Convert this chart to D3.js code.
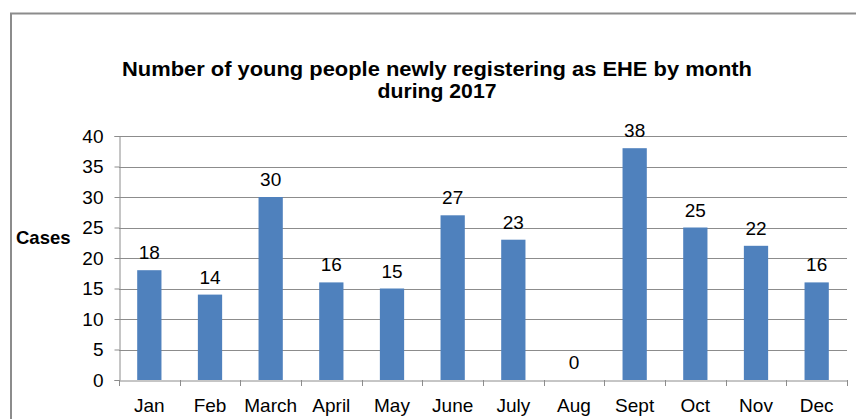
<!DOCTYPE html>
<html>
<head>
<meta charset="utf-8">
<script src="https://cdn.jsdelivr.net/npm/d3@7"></script>
<style>
html,body{margin:0;padding:0;background:#fff;}
svg{display:block;font-family:"Liberation Sans",Arial,sans-serif;}
</style>
</head>
<body>
<svg id="chart" width="856" height="419"></svg>
<script>
const months = ["Jan","Feb","March","April","May","June","July","Aug","Sept","Oct","Nov","Dec"];
const cases = [18,14,30,16,15,27,23,0,38,25,22,16];
const yTicks = [0,5,10,15,20,25,30,35,40];
const titleLines = ["Number of young people newly registering as EHE by month","during 2017"];
const yAxisTitle = "Cases";

(function(){
const svg = d3.select("#chart");
const FONT = "Liberation Sans, Arial, sans-serif";
// outer frame
svg.append("path").attr("d","M11,419 V13.5 H856").attr("fill","none").attr("stroke","#8c8c8c").attr("stroke-width",2);

const pL = 119, pR = 847, pT = 136, pB = 380;
const x = d3.scaleBand().domain(months).range([pL,pR]).paddingInner(0.6).paddingOuter(0.3);
const xOuter = d3.scaleBand().domain(months).range([pL,pR]);
const y = d3.scaleLinear().domain([0,40]).range([pB,pT]);

// gridlines
svg.append("g").selectAll("line").data(yTicks.filter(d=>d>0)).join("line")
  .attr("x1",pL).attr("x2",pR)
  .attr("y1",d=>Math.round(y(d))+0.5).attr("y2",d=>Math.round(y(d))+0.5)
  .attr("stroke","#8c8c8c").attr("stroke-width",1);

// bars
svg.append("g").selectAll("rect").data(cases).join("rect")
  .attr("x",(d,i)=>x(months[i]))
  .attr("width",x.bandwidth())
  .attr("y",d=>y(d))
  .attr("height",d=>pB-y(d))
  .attr("fill","#4F81BD");

// y axis
const yAxis = svg.append("g").attr("transform",`translate(${pL+0.5},0)`)
  .call(d3.axisLeft(y).tickValues(yTicks).tickSize(5).tickPadding(11));
yAxis.select(".domain").attr("stroke","#8c8c8c");
yAxis.selectAll(".tick line").attr("stroke","#8c8c8c");
yAxis.selectAll(".tick text").attr("font-size","19px").attr("fill","#000").attr("font-family",FONT);

// x axis
const xAxis = svg.append("g").attr("transform",`translate(0,${pB+0.5})`)
  .call(d3.axisBottom(xOuter).tickSize(0).tickPadding(0));
xAxis.select(".domain").attr("stroke","#8c8c8c");
xAxis.selectAll(".tick text").attr("font-size","19px").attr("fill","#000").attr("font-family",FONT)
  .attr("dy",null).attr("y",31.5);
// boundary ticks between categories
svg.append("g").selectAll("line").data(months.concat(["_end"])).join("line")
  .attr("x1",(d,i)=>Math.round(pL + i*xOuter.step())+0.5)
  .attr("x2",(d,i)=>Math.round(pL + i*xOuter.step())+0.5)
  .attr("y1",pB).attr("y2",pB+6)
  .attr("stroke","#8c8c8c");

// value labels
svg.append("g").selectAll("text").data(cases).join("text")
  .attr("x",(d,i)=>x(months[i])+x.bandwidth()/2)
  .attr("y",d=>y(d)-11)
  .attr("text-anchor","middle")
  .attr("font-size","19px")
  .attr("fill","#000")
  .text(d=>d);

// y axis title
svg.append("text").attr("x",16).attr("y",244).attr("font-size","18.5px").attr("font-weight","bold").attr("fill","#000").text(yAxisTitle);

// chart title
const titleWidths = [630, 119];
svg.append("g").selectAll("text").data(titleLines).join("text")
  .attr("x",437).attr("y",(d,i)=>76+i*21.5)
  .attr("text-anchor","middle")
  .attr("font-size","20px").attr("font-weight","bold").attr("fill","#000")
  .attr("textLength",(d,i)=>titleWidths[i]).attr("lengthAdjust","spacingAndGlyphs")
  .text(d=>d);
})();
</script>
</body>
</html>
